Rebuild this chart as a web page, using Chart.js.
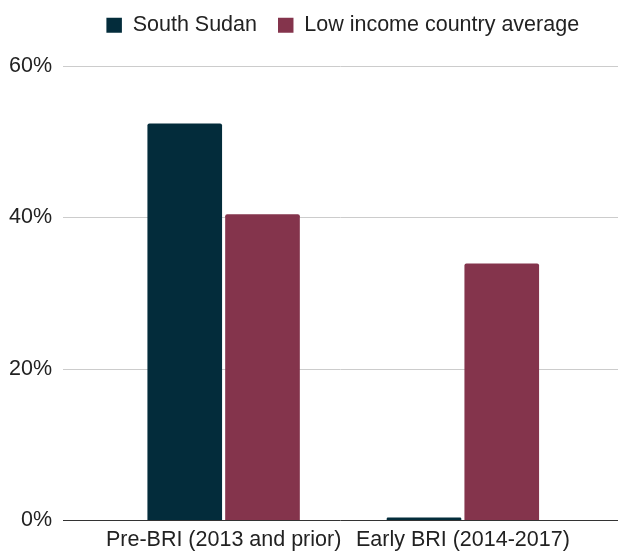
<!DOCTYPE html>
<html>
<head>
<meta charset="utf-8">
<script src="https://cdn.jsdelivr.net/npm/chart.js@4.4.0/dist/chart.umd.min.js"></script>
<style>
  html, body { margin: 0; padding: 0; background: #fff; }
  #wrap { width: 618px; height: 552px; position: relative; }
</style>
</head>
<body>
<div id="wrap"><canvas id="chart"></canvas></div>
<script>
var categories = ['Pre-BRI (2013 and prior)', 'Early BRI (2014-2017)'];
var southSudan = [52.4, 0.33];
var lowIncomeAvg = [40.4, 33.9];
var yTicks = [0, 20, 40, 60];

// gridlines run wider than the plot area, like the original
const wideGrid = {
  id: 'wideGrid',
  beforeDatasetsDraw: function (chart) {
    var ctx = chart.ctx;
    var y = chart.scales.y;
    ctx.save();
    yTicks.forEach(function (t) {
      var py = Math.round(y.getPixelForValue(t)) + 0.5;
      ctx.beginPath();
      ctx.lineWidth = 1;
      ctx.strokeStyle = t === 0 ? '#333333' : '#cccccc';
      ctx.moveTo(63, py);
      ctx.lineTo(chart.width, py);
      ctx.stroke();
    });
    ctx.restore();
  }
};

// more room under the legend, and legend nudged right
const legendSpace = {
  id: 'legendSpace',
  afterInit: function (chart) {
    var lg = chart.legend;
    var fit = lg.fit;
    lg.fit = function () {
      fit.call(this);
      this.height += 20;
    };
  },
  afterLayout: function (chart) {
    chart.legend.left += 47;
    chart.legend.right += 47;
  }
};

window.onload = function () {
  Chart.defaults.font.family = "'Liberation Sans', Arial, sans-serif";
  Chart.defaults.font.size = 21.5;
  Chart.defaults.color = '#222222';

  new Chart(document.getElementById('chart'), {
    type: 'bar',
    data: {
      labels: categories,
      datasets: [{
        label: 'South Sudan',
        data: southSudan,
        backgroundColor: '#032c3b',
        borderRadius: { topLeft: 2, topRight: 2 },
        borderSkipped: 'bottom',
        categoryPercentage: 0.65,
        barPercentage: 0.96
      }, {
        label: 'Low income country average',
        data: lowIncomeAvg,
        backgroundColor: '#84344c',
        borderRadius: { topLeft: 2, topRight: 2 },
        borderSkipped: 'bottom',
        categoryPercentage: 0.65,
        barPercentage: 0.96
      }]
    },
    options: {
      responsive: true,
      maintainAspectRatio: false,
      animation: false,
      layout: { padding: { left: 9, right: 35.5, top: -6.5, bottom: 0 } },
      plugins: {
        legend: {
          labels: { boxWidth: 15.5, boxHeight: 15, padding: 21, color: '#222222' }
        },
        tooltip: { enabled: false }
      },
      scales: {
        x: {
          grid: { display: false, drawTicks: false },
          border: { display: false },
          ticks: { padding: 7.5, color: '#222222', maxRotation: 0, autoSkip: false },
          afterFit: function (axis) {
            axis.paddingLeft = 0;
            axis.paddingRight = 0;
            axis.height = 32;
          }
        },
        y: {
          min: 0,
          max: 60,
          grid: { display: false, drawTicks: false },
          border: { display: false },
          afterBuildTicks: function (axis) {
            axis.ticks = yTicks.map(function (v) { return { value: v }; });
          },
          afterFit: function (axis) {
            axis.width = 95;
            axis.paddingTop = 0;
            axis.paddingBottom = 0;
          },
          ticks: {
            padding: 52,
            color: '#222222',
            callback: function (v) { return v + '%'; }
          }
        }
      }
    },
    plugins: [wideGrid, legendSpace]
  });
};
</script>
</body>
</html>
